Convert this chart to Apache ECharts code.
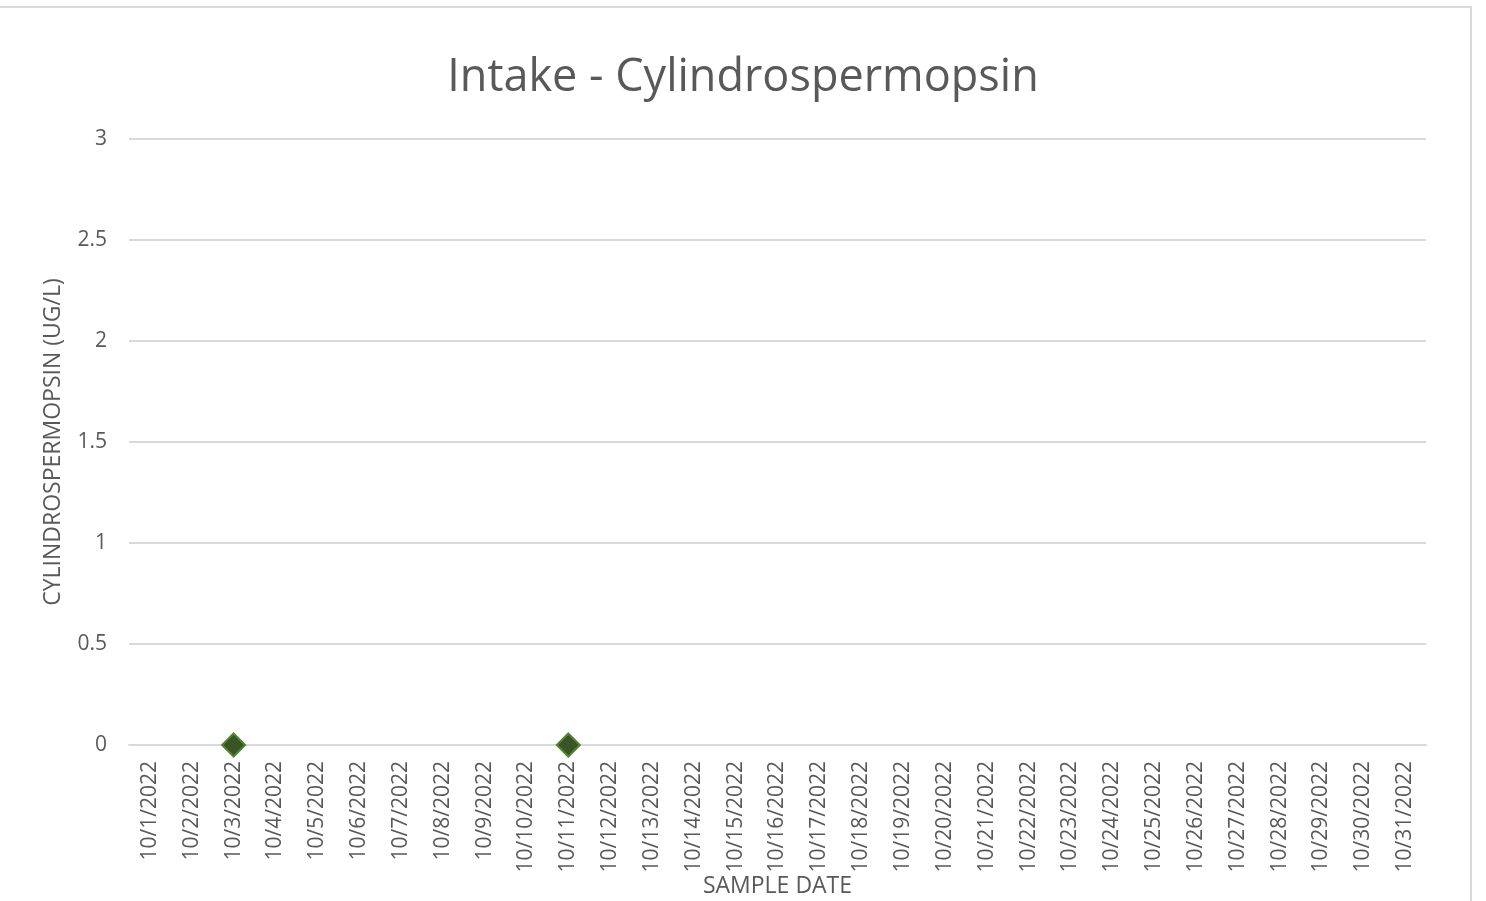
<!DOCTYPE html>
<html>
<head>
<meta charset="utf-8">
<script src="https://cdn.jsdelivr.net/npm/echarts@6/dist/echarts.min.js"></script>
<style>
  html, body { margin: 0; padding: 0; background: #fff; overflow: hidden; }
  #frame {
    position: absolute; left: -3px; top: 6px;
    width: 1475px; height: 900px;
    border: 2px solid #d9d9d9; box-sizing: border-box;
  }
  #main { position: absolute; left: 0; top: 0; width: 1486px; height: 901px; }
</style>
</head>
<body>
<div id="frame"></div>
<div id="main"></div>
<script>
  // 采样日期
  var dates = [];
  var days = ['1','2','3','4','5','6','7','8','9','10','11','12','13','14','15','16',
              '17','18','19','20','21','22','23','24','25','26','27','28','29','30','31'];
  for (var i = 0; i < days.length; i++) {
    dates.push('10/' + days[i] + '/2022');
  }
  // 有检测结果的日期和数值
  var sampleDates = ['10/3/2022', '10/11/2022'];
  var sampleValues = [0, 0];
  var yTicks = [0, 0.5, 1, 1.5, 2, 2.5, 3];

  var points = [];
  for (var k = 0; k < sampleDates.length; k++) {
    points.push([sampleDates[k], sampleValues[k]]);
  }

  var font = '"Open Sans", "Noto Sans", sans-serif';
  var grey = '#595959';

  echarts.init(document.getElementById('main')).setOption({
    animation: false,
    title: {
      text: 'Intake - Cylindrospermopsin',
      left: 'center',
      top: 51,
      textStyle: { fontFamily: font, fontSize: 45, fontWeight: 'normal', color: grey }
    },
    grid: { left: 129, right: 60, top: 139, bottom: 156, outerBoundsMode: 'none' },
    xAxis: {
      type: 'category',
      data: dates,
      boundaryGap: true,
      name: 'SAMPLE DATE',
      nameLocation: 'middle',
      nameGap: 130,
      nameMoveOverlap: false,
      nameTextStyle: { fontFamily: font, fontSize: 23, color: grey },
      axisLine: { show: true, lineStyle: { color: '#d9d9d9', width: 2 } },
      axisTick: { show: false },
      axisLabel: { rotate: 90, interval: 0, margin: 16, fontFamily: font, fontSize: 21, color: grey }
    },
    yAxis: {
      type: 'value',
      min: yTicks[0],
      max: yTicks[yTicks.length - 1],
      interval: 0.5,
      name: 'CYLINDROSPERMOPSIN (UG/L)',
      nameLocation: 'middle',
      nameGap: 64,
      nameMoveOverlap: false,
      nameTextStyle: { fontFamily: font, fontSize: 23, color: grey },
      axisLine: { show: false },
      axisTick: { show: false },
      axisLabel: { margin: 22, fontFamily: font, fontSize: 21, color: grey },
      splitLine: { lineStyle: { color: '#d9d9d9', width: 2 } }
    },
    series: [{
      type: 'scatter',
      data: points,
      symbol: 'diamond',
      symbolSize: [23, 23],
      itemStyle: { color: '#375623', borderColor: '#548235', borderWidth: 2, opacity: 1 },
      z: 5
    }]
  });
</script>
</body>
</html>
